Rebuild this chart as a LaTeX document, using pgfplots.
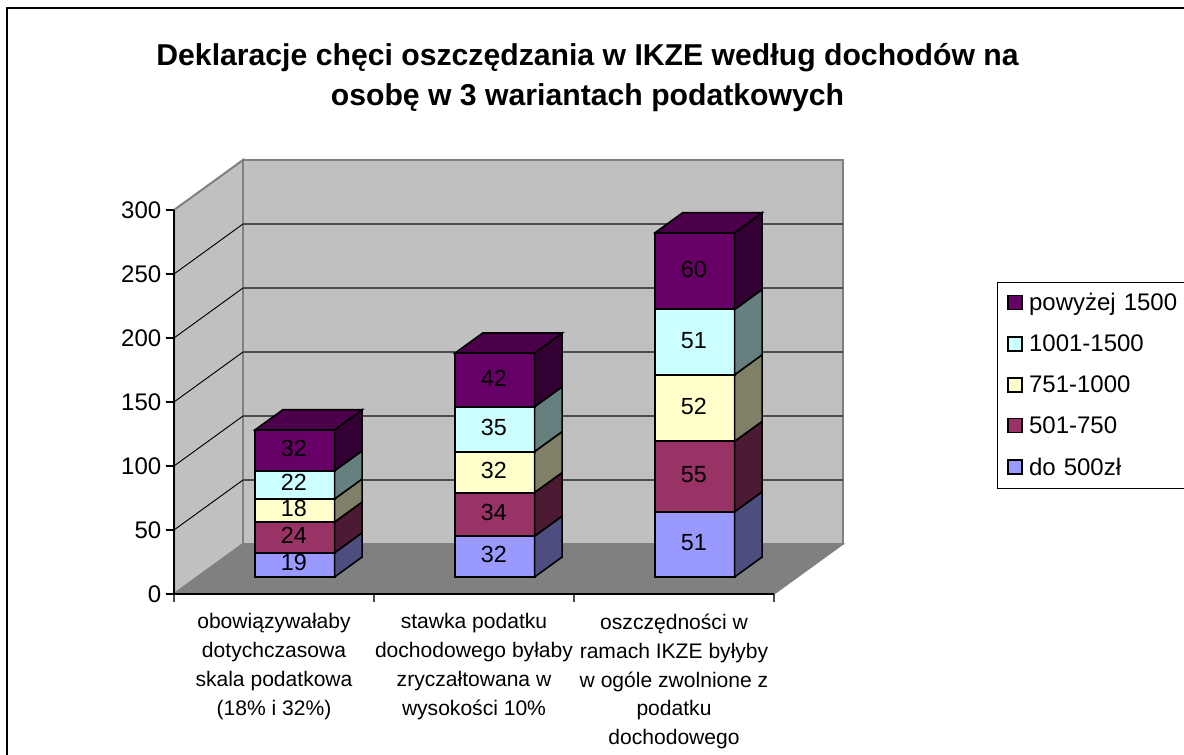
\documentclass[border=0pt]{standalone}
\usepackage{fontspec}
\setmainfont{Liberation Sans}
\usepackage{pgfplots}
\pgfplotsset{compat=1.18}

% chart colours: front, side, top
\definecolor{cA}{HTML}{9999FF}\definecolor{cAs}{HTML}{4D4D80}
\definecolor{cB}{HTML}{993366}\definecolor{cBs}{HTML}{4D1A33}
\definecolor{cC}{HTML}{FFFFCC}\definecolor{cCs}{HTML}{808066}
\definecolor{cD}{HTML}{CCFFFF}\definecolor{cDs}{HTML}{668080}
\definecolor{cE}{HTML}{660066}\definecolor{cEs}{HTML}{330033}\definecolor{cEt}{HTML}{4C004C}
\definecolor{wall}{HTML}{C0C0C0}
\definecolor{floorc}{HTML}{808080}

% one stack segment: x0, x1, z0, z1, colour name, label
\newcommand{\seg}[6]{%
  \addplot3[fill=#5,draw=black,line width=1.5pt] coordinates {(#1,.34,#3)(#2,.34,#3)(#2,.34,#4)(#1,.34,#4)} --cycle;
  \addplot3[fill=#5s,draw=black,line width=1.2pt] coordinates {(#2,.34,#3)(#2,.74,#3)(#2,.74,#4)(#2,.34,#4)} --cycle;
  \node[font=\fontsize{17.5pt}{20pt}\selectfont,text=black,xshift=-.7pt,yshift=1.5pt] at (axis cs:{#1+.1985},.34,{(#3+#4)/2}) {#6};
}
\newcommand{\topface}[3]{%
  \addplot3[fill=cEt,draw=black,line width=1.2pt] coordinates {(#1,.34,#3)(#2,.34,#3)(#2,.74,#3)(#1,.74,#3)} --cycle;
}

\begin{document}
\begin{tikzpicture}[x=.75pt,y=.75pt]
\path[use as bounding box,clip] (0,0) rectangle (1184,754);
\draw[line width=2.2pt] (7,-5) -- (7,746) -- (1190,746);

% title
\node[align=center,font=\fontsize{22.64pt}{30pt}\selectfont\bfseries] at (587.5,676)
  {Deklaracje chęci oszczędzania w IKZE według dochodów na\\osobę w 3 wariantach podatkowych};

% the 3D part: walls, floor and the stacks
\begin{axis}[
  at={(130.5pt,120pt)},anchor=origin,
  x={(150pt,0pt)},y={(51.75pt,37.5pt)},z={(0pt,.96pt)},
  xmin=0,xmax=3,ymin=0,ymax=1,zmin=0,zmax=300,
  hide axis,clip=false]
  \addplot3[fill=wall,draw=floorc,line width=1.5pt] coordinates {(0,0,0)(0,1,0)(0,1,300)(0,0,300)} --cycle;
  \addplot3[fill=wall,draw=floorc,line width=1.5pt] coordinates {(0,1,0)(3,1,0)(3,1,300)(0,1,300)} --cycle;
  \addplot3[fill=floorc,draw=floorc,line width=1pt] coordinates {(0,0,0)(3,0,0)(3,1,0)(0,1,0)} --cycle;
  % gridlines
  \addplot3[black,line width=.7pt] coordinates {(0,0,50)(0,1,50)};
  \addplot3[black,line width=.7pt] coordinates {(0,0,100)(0,1,100)};
  \addplot3[black,line width=.7pt] coordinates {(0,0,150)(0,1,150)};
  \addplot3[black,line width=.7pt] coordinates {(0,0,200)(0,1,200)};
  \addplot3[black,line width=.7pt] coordinates {(0,0,250)(0,1,250)};
  \addplot3[black!70,line width=1pt] coordinates {(0,1,50)(3,1,50)};
  \addplot3[black!70,line width=1pt] coordinates {(0,1,100)(3,1,100)};
  \addplot3[black!70,line width=1pt] coordinates {(0,1,150)(3,1,150)};
  \addplot3[black!70,line width=1pt] coordinates {(0,1,200)(3,1,200)};
  \addplot3[black!70,line width=1pt] coordinates {(0,1,250)(3,1,250)};

  \seg{.2885}{.6855}{0}{19}{cA}{19}
  \seg{.2885}{.6855}{19}{43}{cB}{24}
  \seg{.2885}{.6855}{43}{61}{cC}{18}
  \seg{.2885}{.6855}{61}{83}{cD}{22}
  \seg{.2885}{.6855}{83}{115}{cE}{32}
  \topface{.2885}{.6855}{115}

  \seg{1.2885}{1.6855}{0}{32}{cA}{32}
  \seg{1.2885}{1.6855}{32}{66}{cB}{34}
  \seg{1.2885}{1.6855}{66}{98}{cC}{32}
  \seg{1.2885}{1.6855}{98}{133}{cD}{35}
  \seg{1.2885}{1.6855}{133}{175}{cE}{42}
  \topface{1.2885}{1.6855}{175}

  \seg{2.2885}{2.6855}{0}{51}{cA}{51}
  \seg{2.2885}{2.6855}{51}{106}{cB}{55}
  \seg{2.2885}{2.6855}{106}{158}{cC}{52}
  \seg{2.2885}{2.6855}{158}{209}{cD}{51}
  \seg{2.2885}{2.6855}{209}{269}{cE}{60}
  \topface{2.2885}{2.6855}{269}
\end{axis}

% front axis lines, tick labels and legend
\begin{axis}[
  at={(130.5pt,120pt)},anchor=south west,
  width=450pt,height=288pt,scale only axis,
  xmin=0,xmax=3,ymin=0,ymax=300,
  axis x line=bottom,axis y line=left,
  axis line style={-,line width=1pt,black},
  /pgf/number format/assume math mode=true,
  ytick={0,50,...,300},
  ytick align=outside,xtick align=outside,
  xtick={.5,1.5,2.5},
  xticklabels={{obowiązywałaby\\dotychczasowa\\skala podatkowa\\(18\% i 32\%)},
    {stawka podatku\\dochodowego byłaby\\zryczałtowana w\\wysokości 10\%},
    {oszczędności w\\ramach IKZE byłyby\\w ogóle zwolnione z\\podatku\\dochodowego}},
  minor xtick={0,1,2,3},
  major tick length=6pt,minor tick length=6pt,
  x tick style={draw=none},
  minor x tick style={draw=black!70,line width=.8pt},
  y tick style={black,line width=.8pt},
  tick label style={font=\fontsize{18pt}{21pt}\selectfont},
  xticklabel style={font=\fontsize{15.8pt}{21.7pt}\selectfont,align=center,anchor=north,yshift=-5.2pt},
  legend style={at={(1.372,.8135)},anchor=north west,draw=black,line width=.7pt,
    font=\fontsize{18pt}{21pt}\selectfont,row sep=12.6pt,
    inner xsep=7.2pt,inner ysep=6.5pt,
    cells={anchor=west},text width=180pt},
  legend image code/.code={\draw[#1,line width=1pt] (0pt,-5pt) rectangle (10.5pt,5.5pt);\path (13.5pt,0pt);},
  ]
  \addlegendimage{fill=cE,draw=black}\addlegendentry{powyżej 1500}
  \addlegendimage{fill=cD,draw=black}\addlegendentry{1001-1500}
  \addlegendimage{fill=cC,draw=black}\addlegendentry{751-1000}
  \addlegendimage{fill=cB,draw=black}\addlegendentry{501-750}
  \addlegendimage{fill=cA,draw=black}\addlegendentry{do 500zł}
\end{axis}
\end{tikzpicture}
\end{document}
